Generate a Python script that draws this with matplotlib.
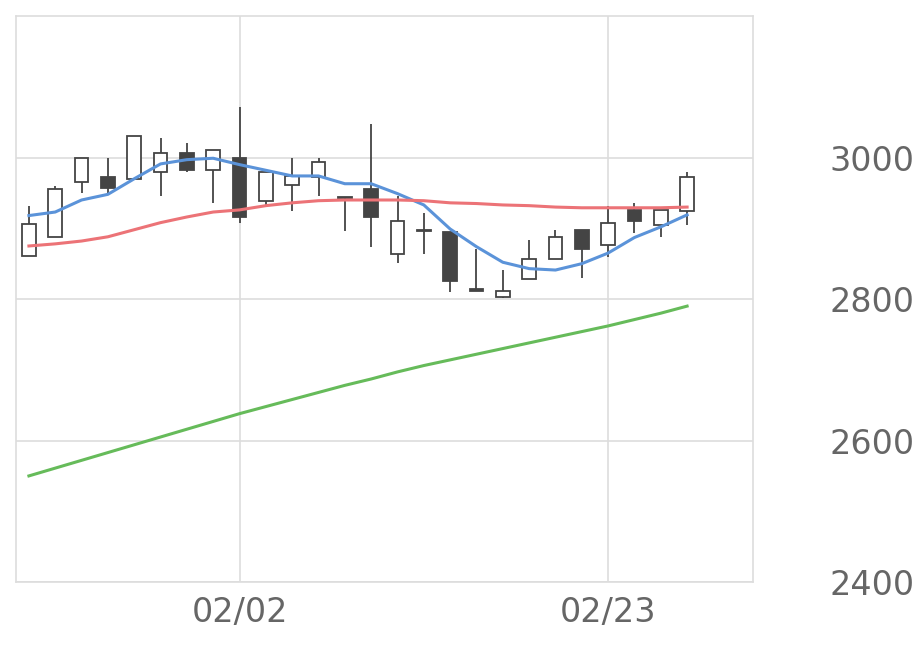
import matplotlib.pyplot as plt
import numpy as np

opens  = [2861, 2888, 2966, 2972, 2970, 2980, 3007, 2982, 3000, 2938, 2961, 2972, 2943,
          2955, 2864, 2896, 2895, 2814, 2803, 2828, 2857, 2898, 2877, 2926, 2904, 2925]
closes = [2906, 2955, 2999, 2957, 3030, 3007, 2982, 3011, 2916, 2980, 2974, 2994, 2943,
          2916, 2911, 2896, 2826, 2811, 2811, 2857, 2888, 2871, 2908, 2911, 2926, 2972]
highs  = [2932, 2960, 2999, 3000, 3030, 3027, 3021, 3011, 3071, 2980, 3000, 3000, 2943,
          3047, 2946, 2922, 2895, 2871, 2841, 2884, 2898, 2898, 2932, 2936, 2926, 2979]
lows   = [2861, 2888, 2950, 2950, 2968, 2946, 2980, 2936, 2908, 2933, 2925, 2946, 2896,
          2874, 2851, 2864, 2810, 2811, 2801, 2828, 2857, 2830, 2860, 2894, 2887, 2904]
ma_short = [2918, 2923, 2940, 2948, 2970, 2991, 2997, 2999, 2990, 2982, 2974, 2974, 2963,
            2963, 2949, 2933, 2899, 2874, 2852, 2843, 2841, 2850, 2865, 2887, 2902, 2919]
ma_mid = [2875, 2878, 2882, 2888, 2898, 2908, 2916, 2923, 2926, 2932, 2936, 2939, 2940,
          2940, 2940, 2939, 2936, 2935, 2933, 2932, 2930, 2929, 2929, 2929, 2929, 2930]
ma_long = [2550, 2561, 2572, 2583, 2594, 2605, 2616, 2627, 2638, 2648, 2658, 2668, 2678,
           2687, 2697, 2706, 2714, 2722, 2730, 2738, 2746, 2754, 2762, 2771, 2780, 2790]
xtick_pos = [8, 22]
xtick_labels = ["02/02", "02/23"]

fig = plt.figure(figsize=(9.2, 6.69), dpi=100)
ax = fig.add_axes([0.0174, 0.130, 0.801, 0.846])
x = np.arange(len(opens))

for i in x:
    o, c = opens[i], closes[i]
    ax.vlines(i, lows[i], highs[i], color="#444444", lw=1.3, zorder=3)
    up = c >= o
    h = max(abs(c - o), 1.5)
    ax.bar(i, h, bottom=min(o, c), width=0.52,
           color="white" if up else "#444444", edgecolor="#444444", lw=1.3, zorder=4)

ax.plot(x, ma_short, color="#5b93d9", lw=2.2, zorder=5)
ax.plot(x, ma_mid, color="#ec7377", lw=2.2, zorder=5)
ax.plot(x, ma_long, color="#66bb5a", lw=2.2, zorder=5)

ax.set_xlim(-0.49, 27.5)
ax.set_ylim(2400, 3200)
ax.set_yticks([2400, 2600, 2800, 3000])
ax.set_xticks(xtick_pos)
ax.set_xticklabels(xtick_labels)
ax.yaxis.tick_right()
ax.grid(True, color="#dddddd", lw=1.2)
ax.set_axisbelow(True)
ax.tick_params(length=0, labelsize=24, colors="#666666")
ax.tick_params(axis="y", pad=55)
ax.tick_params(axis="x", pad=10)
for s in ax.spines.values():
    s.set_color("#dddddd")
    s.set_linewidth(1.2)

fig.savefig("out.png")
